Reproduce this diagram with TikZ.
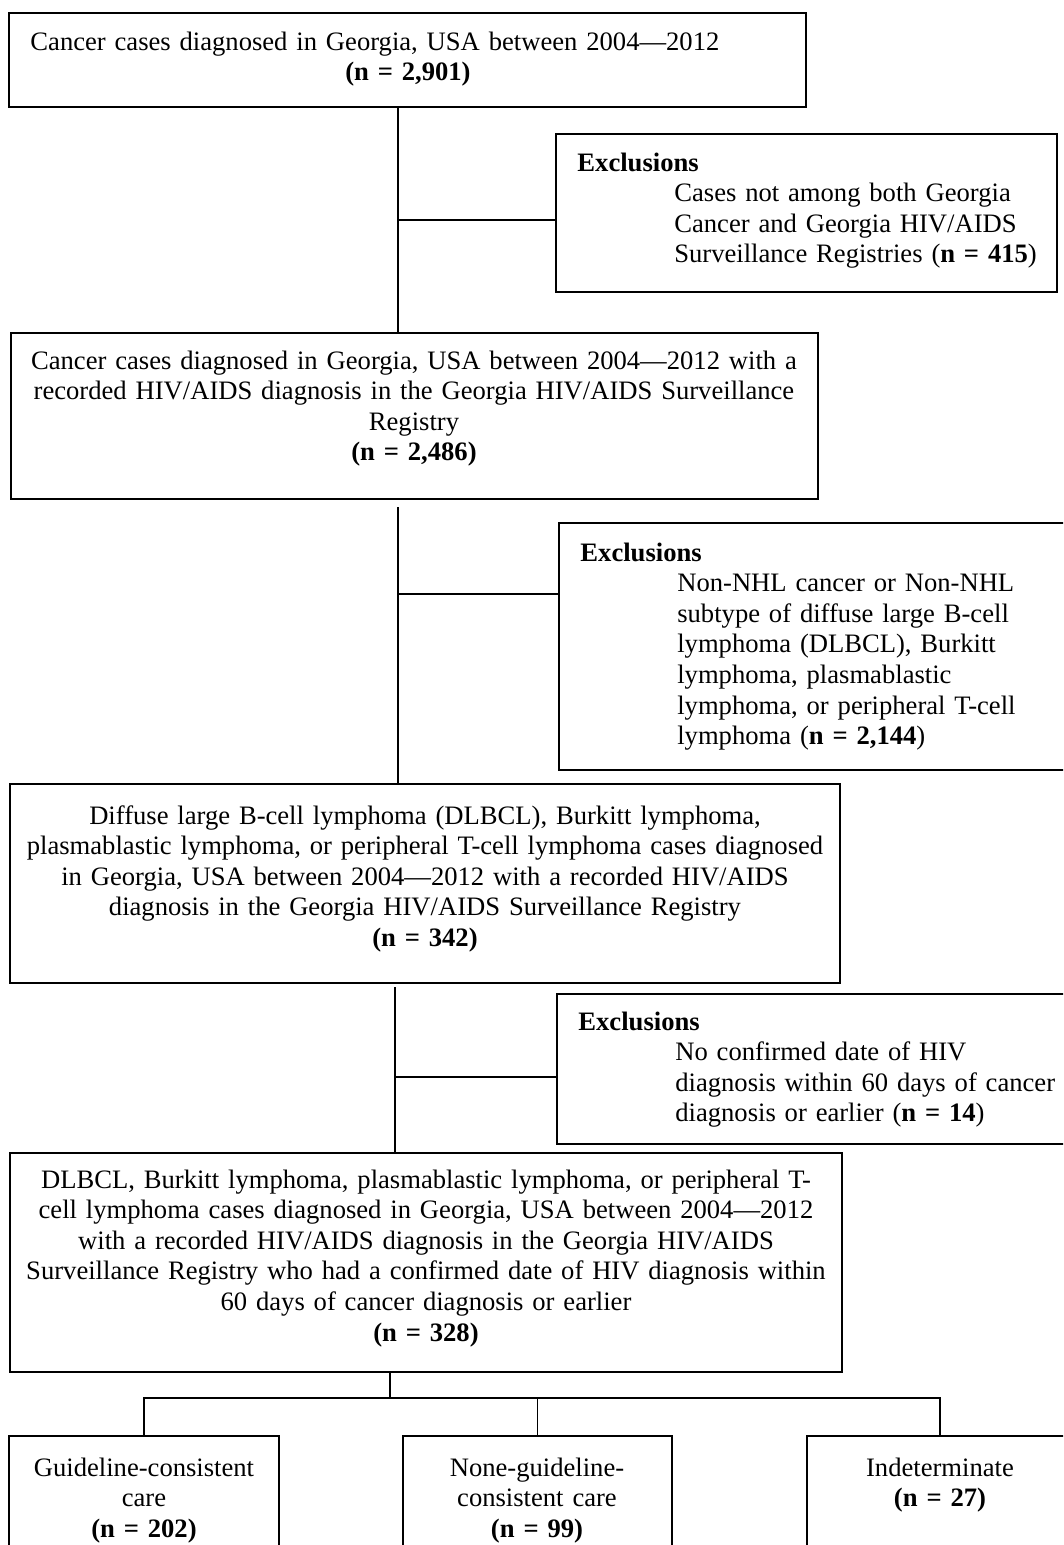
\documentclass[tikz,border=0pt]{standalone}
\usepackage{fontspec}
\setmainfont{Liberation Serif}
\usetikzlibrary{fit}

\newcommand{\exclind}{\hspace*{43.7pt}}

\tikzset{
  box/.style={draw, line width=0.8pt, inner sep=0pt},
  txt/.style={inner sep=0pt, font=\fontsize{12pt}{13.8pt}\selectfont},
  mid/.style={txt, anchor=base, align=center},
  excl/.style={txt, anchor=base west, align=left, text width=225pt},
  link/.style={line width=0.8pt},
}

\begin{document}
\begin{tikzpicture}[x=0.451pt, y=-0.451pt]
    \clip (0,0) rectangle (1063,1545);

    % main boxes
    \node[box, fit={(9,13) (806,107)}] (all) {};
    \node[box, fit={(11,333) (818,499)}] (hiv) {};
    \node[box, fit={(10,784) (840,983)}] (sub) {};
    \node[box, fit={(10,1153) (842,1372)}] (dated) {};

    % exclusion boxes
    \node[box, fit={(556,134) (1057,292)}] (ex1) {};
    \node[box, fit={(559,523) (1080,770)}] (ex2) {};
    \node[box, fit={(557,994) (1080,1144)}] (ex3) {};

    % outcome boxes
    \node[box, fit={(9,1436) (279,1560)}] (gcc) {};
    \node[box, fit={(403,1436) (672,1560)}] (ngc) {};
    \node[box, fit={(807,1436) (1073,1560)}] (ind) {};

    % texts
    \node[txt, anchor=base west, text width=340.5pt, align=left] (all-t) at (30,50)
        {Cancer cases diagnosed in Georgia, USA between 2004—2012\\
         \makebox[340.5pt]{\textbf{(n = 2,901)}}};
    \node[mid, text width=370pt] (hiv-t) at (414,369)
        {Cancer cases diagnosed in Georgia, USA between 2004—2012 with a\\
         recorded HIV/AIDS diagnosis in the Georgia HIV/AIDS Surveillance\\
         Registry\\
         \textbf{(n = 2,486)}};
    \node[mid, text width=370pt] (sub-t) at (425,824)
        {Diffuse large B-cell lymphoma (DLBCL), Burkitt lymphoma,\\
         plasmablastic lymphoma, or peripheral T-cell lymphoma cases diagnosed\\
         in Georgia, USA between 2004—2012 with a recorded HIV/AIDS\\
         diagnosis in the Georgia HIV/AIDS Surveillance Registry\\
         \textbf{(n = 342)}};
    \node[mid, text width=370pt] (dated-t) at (426,1188)
        {DLBCL, Burkitt lymphoma, plasmablastic lymphoma, or peripheral T-\\
         cell lymphoma cases diagnosed in Georgia, USA between 2004—2012\\
         with a recorded HIV/AIDS diagnosis in the Georgia HIV/AIDS\\
         Surveillance Registry who had a confirmed date of HIV diagnosis within\\
         60 days of cancer diagnosis or earlier\\
         \textbf{(n = 328)}};

    \node[excl] (ex1-t) at (577,171)
        {\textbf{Exclusions}\\
         \exclind Cases not among both Georgia\\
         \exclind Cancer and Georgia HIV/AIDS\\
         \exclind Surveillance Registries (\textbf{n = 415})};
    \node[excl] (ex2-t) at (580,561)
        {\textbf{Exclusions}\\
         \exclind Non-NHL cancer or Non-NHL\\
         \exclind subtype of diffuse large B-cell\\
         \exclind lymphoma (DLBCL), Burkitt\\
         \exclind lymphoma, plasmablastic\\
         \exclind lymphoma, or peripheral T-cell\\
         \exclind lymphoma (\textbf{n = 2,144})};
    \node[excl] (ex3-t) at (578,1030)
        {\textbf{Exclusions}\\
         \exclind No confirmed date of HIV\\
         \exclind diagnosis within 60 days of cancer\\
         \exclind diagnosis or earlier (\textbf{n = 14})};

    \node[mid, text width=115pt] (gcc-t) at (144,1476)
        {Guideline-consistent\\ care\\ \textbf{(n = 202)}};
    \node[mid, text width=115pt] (ngc-t) at (537,1476)
        {None-guideline-\\ consistent care\\ \textbf{(n = 99)}};
    \node[mid, text width=115pt] (ind-t) at (940,1476)
        {Indeterminate\\ \textbf{(n = 27)}};

    % connectors
    \coordinate (t1) at (398,220);
    \coordinate (s2) at (398,507);
    \coordinate (t2) at (398,594);
    \coordinate (s3) at (395,987);
    \coordinate (t3) at (395,1077);
    \coordinate (split) at (390,1398);

    \draw[link] (all.south -| t1) -- (hiv.north -| t1);
    \draw[link] (t1) -- (t1 -| ex1.west);
    \draw[link] (s2) -- (s2 |- sub.north);
    \draw[link] (t2) -- (t2 -| ex2.west);
    \draw[link] (s3) -- (s3 |- dated.north);
    \draw[link] (t3) -- (t3 -| ex3.west);
    \draw[link] (dated.south -| split) -- (split);
    \draw[link] (gcc.north) -- (gcc.north |- split) -- (ind.north |- split) -- (ind.north);
    \draw[link] (ngc.north) -- (ngc.north |- split);
\end{tikzpicture}
\end{document}
